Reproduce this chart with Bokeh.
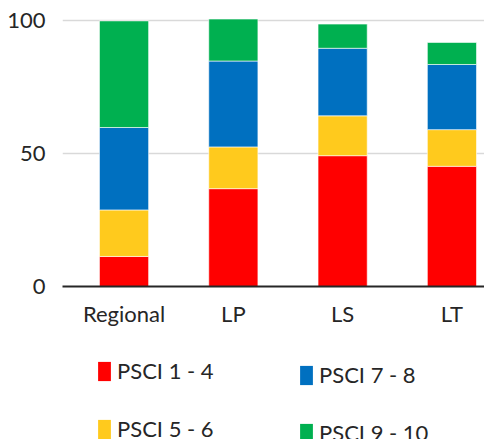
from bokeh.plotting import figure
from bokeh.layouts import column
from bokeh.models import ColumnDataSource, Range1d, FixedTicker, Legend, LegendItem
from bokeh.embed import file_html
from bokeh.resources import INLINE

categories = ["Regional", "LP", "LS", "LT"]
series_names = ["PSCI 1 - 4", "PSCI 5 - 6", "PSCI 7 - 8", "PSCI 9 - 10"]
psci_1_4 = [11.3, 36.8, 49.2, 45.2]
psci_5_6 = [17.5, 15.7, 15.0, 13.8]
psci_7_8 = [31.0, 32.3, 25.4, 24.5]
psci_9_10 = [40.1, 15.8, 9.1, 8.3]
colors = ["#FF0000", "#FFCA1D", "#0070C0", "#00B050"]
y_ticks = [0, 50, 100]

FONT = "Lato"
TEXT = "#262626"

keys = ["s1", "s2", "s3", "s4"]
xs = list(range(len(categories)))
source = ColumnDataSource(dict(x=xs, s1=psci_1_4, s2=psci_5_6, s3=psci_7_8, s4=psci_9_10))

p = figure(width=484, height=340, output_backend="svg", toolbar_location=None,
           x_range=Range1d(-0.563, 3.298), y_range=Range1d(0, 102.3),
           min_border_left=62, min_border_right=0, min_border_top=14, min_border_bottom=54)

renderers = p.vbar_stack(keys, x="x", width=0.45, source=source,
                         fill_color=colors, line_color="white", line_alpha=0.6, line_width=1)

p.outline_line_color = None
p.xgrid.visible = False
p.ygrid.grid_line_color = "#d9d9d9"
p.ygrid.grid_line_width = 1.5
p.ygrid.ticker = FixedTicker(ticks=y_ticks)

p.xaxis.ticker = FixedTicker(ticks=xs)
p.xaxis.major_label_overrides = {i: c for i, c in enumerate(categories)}
p.xaxis.axis_line_color = TEXT
p.xaxis.axis_line_width = 2
p.xaxis.major_tick_line_color = None
p.xaxis.minor_tick_line_color = None
p.xaxis.major_label_standoff = 7

p.yaxis.ticker = FixedTicker(ticks=y_ticks)
p.yaxis.axis_line_color = None
p.yaxis.major_tick_line_color = None
p.yaxis.minor_tick_line_color = None
p.yaxis.major_label_standoff = 11

for ax in (p.xaxis, p.yaxis):
    ax.major_label_text_font = FONT
    ax.major_label_text_font_size = "22px"
    ax.major_label_text_color = TEXT

# legend panel: a second figure holding only the legend (its frame is aligned with the chart's)
lg = figure(width=484, height=99, output_backend="svg", toolbar_location=None,
            x_range=Range1d(0, 1), y_range=Range1d(0, 1),
            x_axis_type=None, y_axis_type=None,
            min_border_left=62, min_border_right=0, min_border_top=0, min_border_bottom=0)
lg.outline_line_color = None
lg.grid.visible = False

nan = float("nan")
swatches = [lg.vbar(x=[nan], top=[nan], width=0.1, fill_color=c, line_color=None) for c in colors]


def make_legend(idx, loc):
    return Legend(items=[LegendItem(label=series_names[i], renderers=[swatches[i]]) for i in idx],
                  orientation="vertical", location=loc, margin=0, padding=0,
                  glyph_width=16, glyph_height=24, label_height=27,
                  label_standoff=5, spacing=31,
                  label_text_font=FONT, label_text_font_size="22px",
                  label_text_color=TEXT, border_line_color=None,
                  background_fill_alpha=0)


lg.add_layout(make_legend([0, 1], (34, -3)))
lg.add_layout(make_legend([2, 3], (236, -7)))

layout = column(p, lg, spacing=0)
open("out.html", "w").write(file_html(layout, INLINE))
